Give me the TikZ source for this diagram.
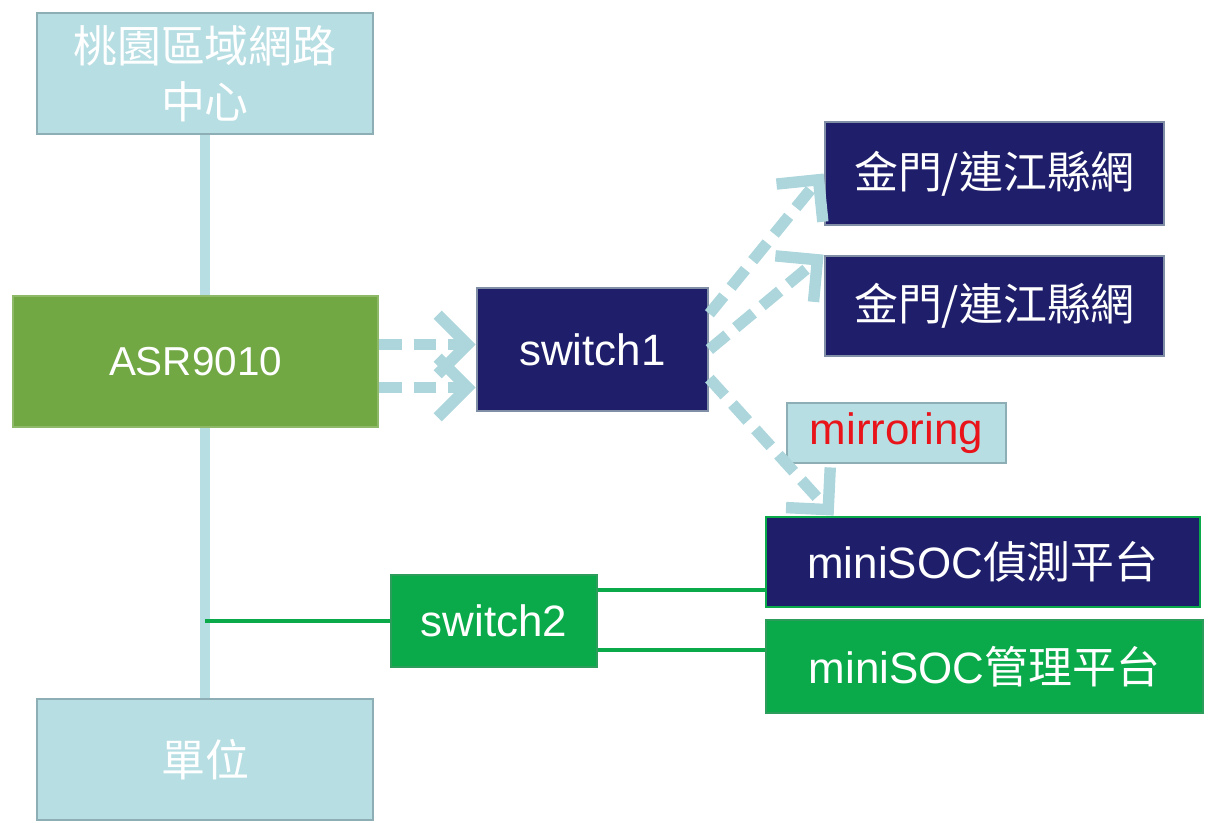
\documentclass[tikz,border=0pt]{standalone}
\usepackage{fontspec}
\setmainfont{Liberation Sans}
\newfontfamily\cjk{Noto Sans CJK TC}
\usepackage{tikz}
\usetikzlibrary{arrows.meta,calc,backgrounds}

\definecolor{paleblue}{RGB}{183,222,227}
\definecolor{paleedge}{RGB}{140,174,180}
\definecolor{dashblue}{RGB}{172,214,220}
\definecolor{navybox}{RGB}{31,30,107}
\definecolor{navyedge}{RGB}{128,143,166}
\definecolor{asrgreen}{RGB}{114,168,68}
\definecolor{brightgreen}{RGB}{10,170,75}
\definecolor{mirrorred}{RGB}{232,20,26}

\begin{document}
\begin{tikzpicture}[x=0.02cm, y=-0.02cm,
    box/.style={rectangle, inner sep=0pt, line width=1.6pt, align=center,
      text=white, font=\fontsize{25}{32}\selectfont},
    palebox/.style={box, fill=paleblue, draw=paleedge},
    navy/.style={box, fill=navybox, draw=navyedge},
    greenbox/.style={box, fill=brightgreen, draw=brightgreen!70!gray},
    trunk/.style={paleblue, line width=5.7pt},
    greenlink/.style={brightgreen, line width=2.8pt},
    flow/.style={dashblue, line width=6.5pt, dash pattern=on 13pt off 6.5pt,
      -{Straight Barb[length=17pt,width=34pt]}}]
  \useasboundingbox (0,0) rectangle (1211,822);

  \node[palebox, minimum width=6.72cm, minimum height=2.42cm] (taoyuan) at (205,73.5)
    {\cjk 桃園區域網路\\\cjk 中心};
  \node[box, fill=asrgreen, draw=asrgreen!80!white, minimum width=7.3cm, minimum height=2.62cm,
    font=\fontsize{23}{28}\selectfont] (asr) at (195.5,361.5) {ASR9010};
  \node[navy, minimum width=4.62cm, minimum height=2.46cm] (switchone) at (592.5,349.5) {switch1};
  \node[navy, minimum width=6.78cm, minimum height=2.06cm] (kinmenA) at (994.5,173.5)
    {\cjk 金門/連江縣網};
  \node[navy, minimum width=6.78cm, minimum height=2.0cm] (kinmenB) at (994.5,306)
    {\cjk 金門/連江縣網};
  \node[palebox, text=mirrorred, minimum width=4.38cm, minimum height=1.2cm] (mirror) at (896.5,433)
    {mirroring};
  \node[box, fill=navybox, draw=brightgreen, minimum width=8.68cm, minimum height=1.8cm] (socdetect)
    at (983,562) {miniSOC{\cjk 偵測平台}};
  \node[greenbox, minimum width=8.74cm, minimum height=1.86cm] (socmanage) at (984.5,666.5)
    {miniSOC{\cjk 管理平台}};
  \node[greenbox, minimum width=4.12cm, minimum height=1.84cm] (switchtwo) at (494,621) {switch2};
  \node[palebox, minimum width=6.72cm, minimum height=2.42cm] (unit) at (205,759.5) {\cjk 單位};

  \begin{scope}[on background layer]
    \draw[trunk] (taoyuan.south) -- (unit.north);
  \end{scope}

  \coordinate (tap) at (taoyuan.south |- switchtwo.west);
  \draw[greenlink] (tap) -- (switchtwo.west);
  \coordinate (s2up) at ($(switchtwo.east)+(0,-31)$);
  \coordinate (s2down) at ($(switchtwo.east)+(0,29)$);
  \draw[greenlink] (s2up) -- (s2up -| socdetect.west);
  \draw[greenlink] (s2down) -- (s2down -| socmanage.west);

  \coordinate (asrup) at ($(asr.east)+(0,-17)$);
  \coordinate (asrdown) at ($(asr.east)+(0,26)$);
  \draw[flow] (asrup) -- (asrup -| switchone.west);
  \draw[flow] (asrdown) -- (asrdown -| switchone.west);

  \draw[flow] (switchone.17) -- (kinmenA.west);
  \draw[flow] (switchone.east) -- (kinmenB.north west);
  \coordinate (socentry) at ($(socdetect.north west)+(69,0)$);
  \draw[flow] (switchone.-14) -- (socentry);
\end{tikzpicture}
\end{document}
